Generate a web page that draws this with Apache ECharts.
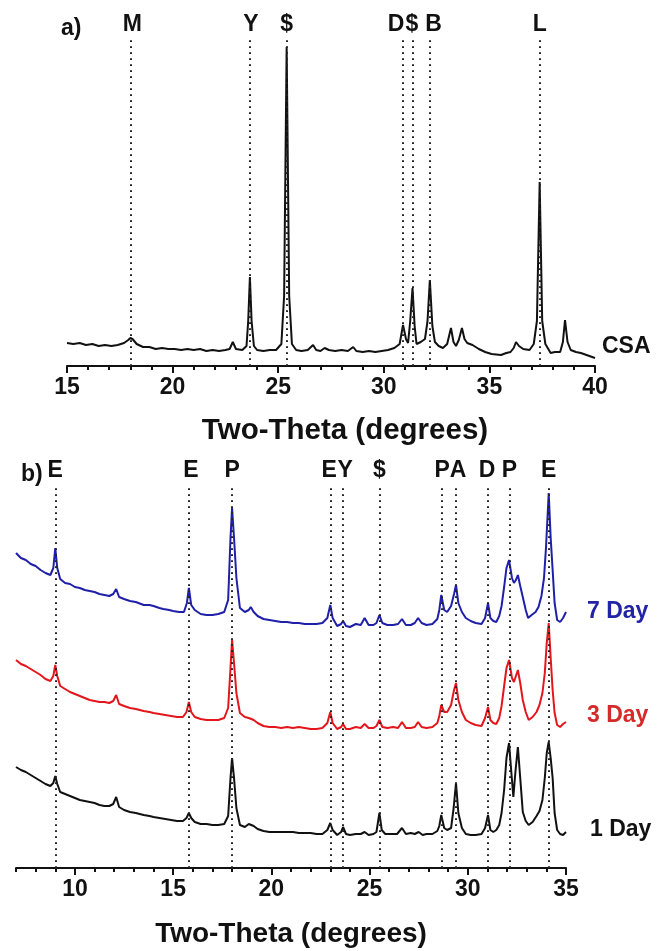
<!DOCTYPE html>
<html><head><meta charset="utf-8">
<script src="https://cdn.jsdelivr.net/npm/echarts@6/dist/echarts.min.js"></script>
<style>html,body{margin:0;padding:0;background:#fff}#c{width:658px;height:951px}</style>
</head><body><div id="c"></div>
<script>
// ---------- Panel a) CSA clinker ----------
const csaTheta = [15.0,15.3,15.6,15.9,16.2,16.5,16.8,17.1,17.4,17.7,17.9,18.0,18.1,18.3,18.6,18.9,19.2,19.5,19.8,20.1,20.4,20.7,21.0,21.3,21.6,21.9,22.2,22.5,22.7,22.85,23.0,23.3,23.5,23.58,23.66,23.74,23.85,24.0,24.3,24.6,24.9,25.15,25.28,25.4,25.52,25.65,25.85,26.1,26.4,26.65,26.8,27.0,27.2,27.4,27.7,28.0,28.3,28.55,28.7,29.0,29.3,29.6,29.9,30.2,30.5,30.75,30.91,31.05,31.15,31.25,31.36,31.46,31.55,31.75,31.95,32.07,32.18,32.3,32.42,32.6,32.8,33.0,33.18,33.3,33.42,33.55,33.7,33.82,33.95,34.2,34.5,34.8,35.1,35.55,35.8,36.0,36.15,36.26,36.4,36.6,36.9,37.1,37.25,37.38,37.5,37.65,37.9,38.1,38.35,38.48,38.58,38.7,38.85,39.1,39.33,39.6,40.0];
const csaIntensity = [23,22,23,21,22,20,21,20,21,23,26,28,27,22,19,19,17,18,17,17,16,17,16,17,15,16,15,16,17,24,17,16,20,45,89,45,20,16,15,16,16,22,70,319,70,22,16,15,16,21,16,15,18,16,15,16,15,19,15,14,15,14,15,16,18,22,41,27,23,45,78,40,22,24,27,45,86,40,24,20,18,22,38,24,20,26,38,27,23,21,17,14,12,11,13,14,18,24,20,17,16,22,45,184,45,22,13,14,14,24,46,24,16,14,13,11,8];
const aPeakNames = ['M','Y','$','D','$','B','L'];
const aPeakPos = [18.0,23.66,25.4,30.91,31.38,32.17,37.38];
const aTicks = [15,20,25,30,35,40];
const aMinorTicks = [15,16,17,18,19,20,21,22,23,24,25,26,27,28,29,30,31,32,33,34,35,36,37,38,39,40];

// ---------- Panel b) hydration ----------
const day7Theta = [7.0,7.25,7.5,7.75,8.0,8.25,8.5,8.75,8.9,9.0,9.1,9.25,9.5,9.75,10.0,10.25,10.5,10.75,11.0,11.25,11.5,11.75,11.95,12.1,12.25,12.5,12.8,13.1,13.5,13.8,14.0,14.3,14.5,14.8,15.0,15.3,15.55,15.7,15.8,15.92,16.1,16.4,16.7,17.0,17.3,17.6,17.8,17.92,18.0,18.1,18.22,18.4,18.65,18.85,18.95,19.1,19.3,19.6,19.9,20.2,20.5,20.8,21.1,21.4,21.7,22.0,22.3,22.6,22.85,23.0,23.12,23.35,23.55,23.65,23.8,24.0,24.3,24.55,24.75,24.95,25.2,25.35,25.5,25.65,25.9,26.2,26.45,26.65,26.85,27.1,27.3,27.47,27.65,27.9,28.2,28.45,28.55,28.65,28.8,28.95,29.15,29.3,29.4,29.52,29.7,29.9,30.15,30.4,30.7,30.88,31.03,31.15,31.3,31.45,31.6,31.72,31.85,31.97,32.1,32.25,32.35,32.45,32.55,32.67,32.8,32.95,33.07,33.25,33.45,33.6,33.75,33.88,33.98,34.12,34.22,34.32,34.42,34.55,34.7,34.85,35.0];
const day7Intensity = [315,310,308,304,302,298,295,293,300,320,300,289,285,284,281,280,278,277,276,274,273,272,274,279,271,269,267,266,263,263,262,260,259,258,257,256,256,265,280,263,258,254,253,253,254,256,268,330,360,330,290,260,256,258,261,256,252,249,248,247,246,246,245,245,244,244,244,245,250,263,250,242,244,247,242,241,244,243,250,243,243,245,253,245,243,243,244,249,243,243,245,250,245,243,244,249,258,273,258,256,262,274,283,265,256,250,247,245,244,250,265,250,247,246,252,262,281,300,308,290,285,288,293,282,271,258,250,253,256,261,272,290,320,375,330,298,265,248,246,250,256];

const day3Theta = [7.0,7.25,7.5,7.75,8.0,8.25,8.5,8.75,8.9,9.0,9.1,9.25,9.5,9.75,10.0,10.25,10.5,10.75,11.0,11.25,11.5,11.75,11.95,12.1,12.25,12.5,12.8,13.1,13.5,13.8,14.0,14.3,14.6,14.9,15.2,15.5,15.68,15.8,15.92,16.1,16.4,16.7,17.0,17.3,17.6,17.8,17.92,18.0,18.1,18.22,18.4,18.65,18.85,18.95,19.1,19.3,19.6,19.9,20.2,20.5,20.8,21.1,21.4,21.7,22.0,22.3,22.6,22.85,23.0,23.12,23.35,23.55,23.65,23.8,24.0,24.3,24.55,24.75,24.95,25.2,25.35,25.5,25.65,25.9,26.2,26.45,26.65,26.85,27.1,27.3,27.47,27.65,27.9,28.2,28.45,28.55,28.65,28.8,28.95,29.15,29.3,29.4,29.52,29.7,29.9,30.15,30.4,30.7,30.88,31.03,31.15,31.3,31.45,31.6,31.72,31.85,31.97,32.1,32.25,32.35,32.45,32.55,32.67,32.8,32.95,33.1,33.3,33.5,33.65,33.8,33.92,34.02,34.12,34.22,34.32,34.42,34.55,34.7,34.85,35.0];
const day3Intensity = [208,204,202,199,196,193,189,187,192,203,192,182,179,176,174,172,170,168,167,166,166,165,167,173,164,162,160,159,157,156,155,154,153,152,151,151,156,166,156,151,149,148,148,148,150,160,200,228,205,175,155,151,150,151,148,145,142,141,141,140,141,140,141,140,139,139,140,145,156,145,139,141,144,139,139,141,140,144,140,140,142,148,141,140,141,140,146,140,140,141,146,141,140,141,145,152,163,156,156,163,178,185,168,156,148,145,143,142,150,161,148,145,144,150,162,182,200,208,190,186,192,198,185,168,156,148,151,156,163,175,195,225,245,210,178,155,143,141,144,146];

const day1Theta = [7.0,7.25,7.5,7.75,8.0,8.25,8.5,8.75,8.9,9.0,9.1,9.25,9.5,9.75,10.0,10.25,10.5,10.75,11.0,11.25,11.5,11.75,11.95,12.1,12.25,12.5,12.8,13.1,13.5,13.8,14.0,14.3,14.6,14.9,15.2,15.5,15.68,15.8,15.92,16.1,16.4,16.7,17.0,17.3,17.6,17.8,17.92,18.0,18.1,18.22,18.4,18.65,18.85,18.95,19.1,19.3,19.6,19.9,20.2,20.5,20.8,21.1,21.4,21.7,22.0,22.3,22.6,22.85,23.0,23.12,23.35,23.55,23.65,23.8,24.0,24.3,24.55,24.75,24.95,25.2,25.35,25.5,25.62,25.8,26.1,26.4,26.65,26.85,27.1,27.3,27.5,27.7,27.9,28.2,28.45,28.55,28.65,28.8,28.95,29.15,29.28,29.4,29.52,29.7,29.9,30.15,30.4,30.7,30.88,31.03,31.15,31.3,31.45,31.6,31.72,31.85,31.97,32.1,32.22,32.32,32.42,32.55,32.67,32.8,32.95,33.1,33.3,33.5,33.65,33.8,33.92,34.02,34.12,34.22,34.32,34.42,34.55,34.7,34.85,35.0];
const day1Intensity = [101,98,96,93,90,87,84,82,85,92,84,76,74,72,70,68,67,66,65,63,62,62,64,71,61,58,56,55,53,52,51,50,49,48,47,47,50,55,50,46,44,44,43,43,44,52,90,110,90,60,43,41,44,46,42,39,37,36,36,36,36,36,35,35,35,34,34,38,45,38,33,36,41,34,33,34,34,36,33,34,36,55,38,34,34,34,40,34,35,34,36,33,34,34,37,42,53,40,38,40,60,85,55,40,34,33,33,34,40,53,38,36,38,43,55,78,110,125,95,71,95,121,90,56,47,43,46,52,57,68,90,115,126,110,90,55,38,34,33,36];

const bPeakNames = ['E','E','P','E','Y','$','P','A','D','P','E'];
const bPeakPos = [9.0,15.8,18.0,23.0,23.65,25.5,28.65,29.4,31.03,32.12,34.12];
const bTicks = [10,15,20,25,30,35];
const bMinorTicks = [7,8,9,10,11,12,13,14,15,16,17,18,19,20,21,22,23,24,25,26,27,28,29,30,31,32,33,34,35];

const FONT = '"Liberation Sans", Arial, sans-serif';
const zip = (a, b) => a.map((v, i) => [v, b[i]]);

const chart = echarts.init(document.getElementById('c'), null, {renderer: 'canvas'});

const txt = (size, color) => ({fontFamily: FONT, fontWeight: 'bold', fontSize: size, color: color || '#111'});

function mainX(grid, min, max, ticks, nameGap, nameSize, namePad) {
  return {
    gridIndex: grid, type: 'value', min: min, max: max, position: 'bottom',
    axisLine: {show: true, onZero: false, lineStyle: {color: '#111', width: 2}},
    axisTick: {show: true, customValues: ticks, length: 7, lineStyle: {color: '#111', width: 2}},
    axisLabel: Object.assign({show: true, customValues: ticks, margin: 10}, txt(23)),
    splitLine: {show: false},
    name: 'Two-Theta (degrees)', nameLocation: 'middle', nameGap: nameGap,
    nameTextStyle: Object.assign({padding: namePad}, txt(nameSize))
  };
}
function minorX(grid, min, max, ticks) {
  return {
    gridIndex: grid, type: 'value', min: min, max: max, position: 'bottom',
    axisLine: {show: false},
    axisTick: {show: true, customValues: ticks, length: 4, lineStyle: {color: '#111', width: 2}},
    axisLabel: {show: false}, splitLine: {show: false}
  };
}

function peakLabels(names, pos, xi, yi, ymax, nudges) {
  return {
    type: 'scatter', xAxisIndex: xi, yAxisIndex: yi, symbolSize: 0, silent: true, z: 1,
    itemStyle: {opacity: 1, color: '#111'},
    data: pos.map((p, i) => ({
      value: [p, ymax],
      label: Object.assign({offset: [nudges[i] || 0, 0], opacity: 1}, txt(23))
    })),
    label: Object.assign({show: true, position: 'top', distance: 2, opacity: 1,
      formatter: (p) => names[p.dataIndex]}, txt(23)),
    markLine: {
      silent: true, symbol: 'none', animation: false,
      lineStyle: {type: [1.8, 4.2], color: '#222', width: 2},
      label: {show: false},
      data: pos.map(p => ({xAxis: p}))
    }
  };
}

function trace(name, theta, inten, xi, yi, color, labelColor, dist, dy) {
  return {
    name: name, type: 'line', xAxisIndex: xi, yAxisIndex: yi, z: 3,
    data: zip(theta, inten), symbol: 'none', animation: false,
    lineStyle: {color: color, width: 2},
    endLabel: Object.assign({show: true, formatter: name, distance: dist, offset: [0, dy]}, txt(23, labelColor))
  };
}

chart.setOption({
  animation: false,
  backgroundColor: '#fff',
  title: [
    {text: 'a)', left: 56, top: 12, textStyle: txt(23)},
    {text: 'b)', left: 16, top: 458, textStyle: txt(23)}
  ],
  grid: [
    {left: 67, right: 63, top: 38, bottom: 585},
    {left: 16, right: 92, top: 484, bottom: 83}
  ],
  xAxis: [
    mainX(0, 15, 40, aTicks, 50, 29.5, [0, 0, 0, 28]),
    minorX(0, 15, 40, aMinorTicks),
    mainX(1, 7, 35, bTicks, 52, 28, [0, 0, 0, 0]),
    minorX(1, 7, 35, bMinorTicks)
  ],
  yAxis: [
    {gridIndex: 0, type: 'value', min: 0, max: 328, show: false},
    {gridIndex: 1, type: 'value', min: 0, max: 384, show: false}
  ],
  series: [
    peakLabels(aPeakNames, aPeakPos, 0, 0, 328, [2, 1, 0, -7, -1, 4, 0]),
    trace('CSA', csaTheta, csaIntensity, 0, 0, '#111', '#111', 7, -11),
    peakLabels(bPeakNames, bPeakPos, 2, 1, 384, [0, 2, 0, -1, 2, 0, 1, 2, -1, 0, 0]),
    trace('7 Day', day7Theta, day7Intensity, 2, 1, '#1f1fa8', '#2323a6', 21, 0),
    trace('3 Day', day3Theta, day3Intensity, 2, 1, '#e3161c', '#d42a2a', 21, -6),
    trace('1 Day', day1Theta, day1Intensity, 2, 1, '#111', '#111', 24, -2)
  ]
});
</script>
</body></html>
